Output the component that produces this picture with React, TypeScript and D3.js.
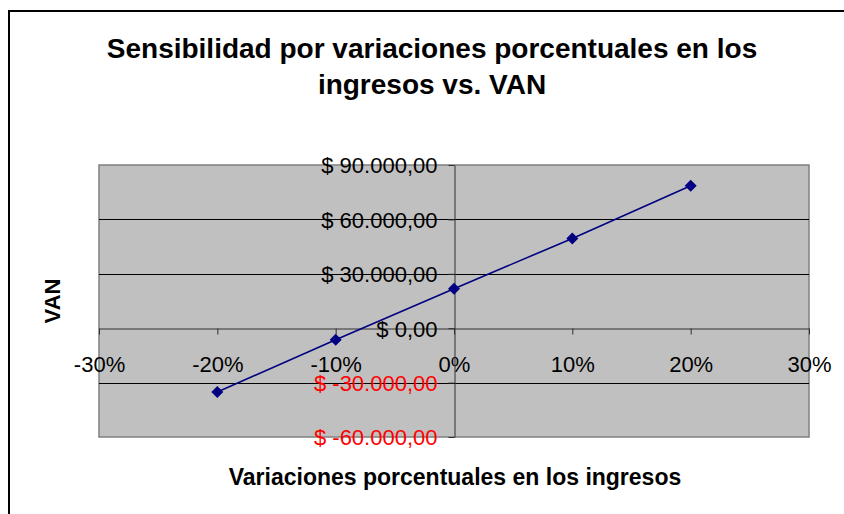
import React, { useEffect, useRef } from 'react';
import * as d3 from 'd3';

// chart data
const variaciones = [-0.2, -0.1, 0, 0.1, 0.2];
const van = [-35200, -6400, 21800, 49500, 78600];
const xTicks = [-0.3, -0.2, -0.1, 0, 0.1, 0.2, 0.3];
const yTicks = [-60000, -30000, 0, 30000, 60000, 90000];
const titleLines = ['Sensibilidad por variaciones porcentuales en los', 'ingresos vs. VAN'];

const W = 844;
const H = 514;

const fmtMoney = (v: number) => {
  const s = d3.format(',.2f')(v);
  // 90,000.00 -> 90.000,00
  return '$ ' + s.replace(/,/g, '#').replace('.', ',').replace(/#/g, '.').replace('−', '-');
};

const App = () => {
  const ref = useRef<SVGSVGElement>(null);

  useEffect(() => {
    if (!ref.current) return;
    const svg = d3.select(ref.current);
    svg.selectAll('*').remove();

    const font = '"Liberation Sans", Arial, sans-serif';

    // outer chart frame
    svg.append('rect')
      .attr('x', 9).attr('y', 11)
      .attr('width', W + 20).attr('height', H + 20)
      .attr('fill', '#fff').attr('stroke', '#000').attr('stroke-width', 2);

    const x = d3.scaleLinear().domain([-0.3, 0.3]).range([99, 809]);
    const y = d3.scaleLinear().domain([-60000, 90000]).range([437, 165]);

    // plot area
    svg.append('rect')
      .attr('x', x(-0.3)).attr('y', y(90000))
      .attr('width', x(0.3) - x(-0.3)).attr('height', y(-60000) - y(90000))
      .attr('fill', '#C0C0C0').attr('stroke', '#808080').attr('stroke-width', 1.5);

    // gridlines
    svg.append('g')
      .selectAll('line')
      .data(yTicks.filter(t => t !== 0 && t !== 90000 && t !== -60000))
      .enter().append('line')
      .attr('x1', x(-0.3)).attr('x2', x(0.3))
      .attr('y1', d => Math.round(y(d)) + 0.5).attr('y2', d => Math.round(y(d)) + 0.5)
      .attr('stroke', '#000').attr('stroke-width', 1);

    // x axis
    const xAxis = svg.append('g')
      .attr('transform', `translate(0,${Math.round(y(0)) + 0.5})`)
      .call(d3.axisBottom(x).tickValues(xTicks).tickSize(6).tickSizeOuter(0).tickFormat(d3.format('.0%')));
    xAxis.select('.domain').attr('stroke', '#303030');
    xAxis.selectAll('line').attr('stroke', '#303030');
    xAxis.selectAll('text')
      .attr('font-family', font).attr('font-size', 22).attr('fill', '#000')
      .attr('y', 0).attr('dy', 0)
      .attr('transform', `translate(0,${43})`)
      .text((d: any) => d3.format('.0%')(d).replace('−', '-'));

    // y axis
    const yAxis = svg.append('g')
      .attr('transform', `translate(${Math.round(x(0)) + 0.5},0)`)
      .call(d3.axisLeft(y).tickValues(yTicks).tickSize(6).tickSizeOuter(0).tickFormat((d: any) => fmtMoney(d)));
    yAxis.select('.domain').attr('stroke', '#303030');
    yAxis.selectAll('line').attr('stroke', '#303030');
    yAxis.selectAll('text')
      .attr('font-family', font).attr('font-size', 22)
      .attr('x', -17).attr('dy', '0.36em')
      .attr('fill', (d: any) => (d < 0 ? '#FF0000' : '#000'));

    // series line
    const line = d3.line<number>()
      .x((d, i) => x(variaciones[i]))
      .y(d => y(d));
    svg.append('path')
      .datum(van)
      .attr('d', line)
      .attr('fill', 'none')
      .attr('stroke', '#000080')
      .attr('stroke-width', 1.6);

    // diamond markers
    svg.append('g')
      .selectAll('path')
      .data(van)
      .enter().append('path')
      .attr('d', d3.symbol(d3.symbolSquare, 72)() as string)
      .attr('transform', (d, i) => `translate(${x(variaciones[i])},${y(d)}) rotate(45)`)
      .attr('fill', '#000080');

    // title
    svg.append('g')
      .selectAll('text')
      .data(titleLines)
      .enter().append('text')
      .attr('x', 432).attr('y', (d, i) => 58 + i * 35.5)
      .attr('text-anchor', 'middle')
      .attr('font-family', font).attr('font-weight', 'bold').attr('font-size', 28)
      .text(d => d);

    // axis titles
    svg.append('text')
      .attr('x', 455).attr('y', 485)
      .attr('text-anchor', 'middle')
      .attr('font-family', font).attr('font-weight', 'bold').attr('font-size', 23)
      .text('Variaciones porcentuales en los ingresos');

    svg.append('text')
      .attr('transform', 'translate(60,301) rotate(-90)')
      .attr('text-anchor', 'middle')
      .attr('font-family', font).attr('font-weight', 'bold').attr('font-size', 22)
      .text('VAN');
  }, []);

  return (
    <svg
      ref={ref}
      width={W}
      height={H}
      style={{ position: 'absolute', left: 0, top: 0, background: '#fff' }}
    />
  );
};

export default App;
